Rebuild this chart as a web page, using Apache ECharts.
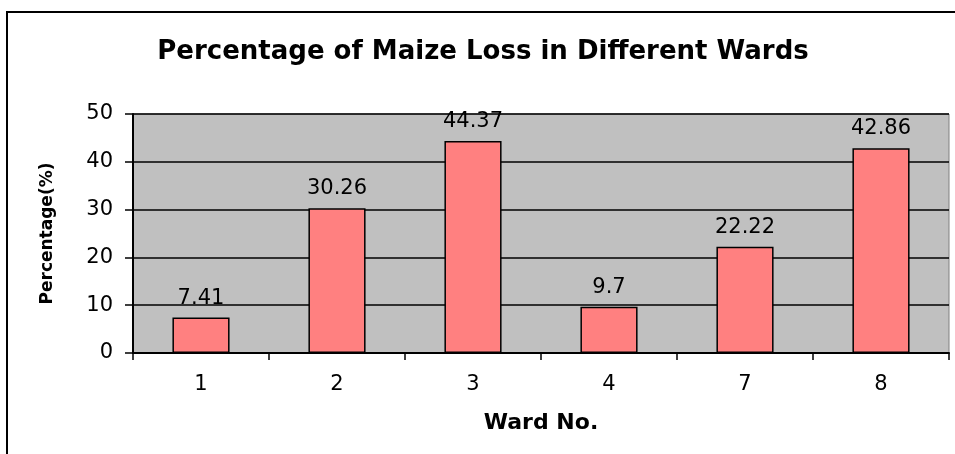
<!DOCTYPE html>
<html>
<head>
<meta charset="UTF-8">
<title>Maize Loss</title>
<script src="https://cdn.jsdelivr.net/npm/echarts@6/dist/echarts.min.js"></script>
<style>
  html, body { margin: 0; padding: 0; background: #fff; }
  #main { width: 955px; height: 454px; }
</style>
</head>
<body>
<div id="main"></div>
<script>
// data
var wards = ['1', '2', '3', '4', '7', '8'];
var lossPct = [7.41, 30.26, 44.37, 9.7, 22.22, 42.86];
var yTicks = [0, 10, 20, 30, 40, 50];

var font = 'DejaVu Sans, Verdana, sans-serif';
var myChart = echarts.init(document.getElementById('main'));

var option = {
  backgroundColor: '#fff',
  animation: false,
  title: {
    text: 'Percentage of Maize Loss in Different Wards',
    left: 478,
    textAlign: 'center',
    top: 34,
    textStyle: { fontFamily: font, fontSize: 26, fontWeight: 'bold', color: '#000' }
  },
  graphic: [{
    type: 'rect',
    shape: { x: 7, y: 12, width: 1000, height: 500 },
    style: { fill: 'none', stroke: '#000', lineWidth: 2 },
    silent: true
  }],
  grid: {
    left: 133, right: 6, top: 114, bottom: 101,
    show: true,
    backgroundColor: '#c0c0c0',
    borderColor: '#808080',
    borderWidth: 1
  },
  xAxis: {
    type: 'category',
    data: wards,
    name: 'Ward No.',
    nameLocation: 'middle',
    nameGap: 59,
    nameTextStyle: { fontFamily: font, fontSize: 22, fontWeight: 'bold', color: '#000' },
    axisLine: { lineStyle: { color: '#000', width: 2 } },
    axisTick: { show: true, length: 7, lineStyle: { color: '#000', width: 1.5 } },
    axisLabel: { fontFamily: font, fontSize: 21, color: '#000', margin: 21 }
  },
  yAxis: {
    type: 'value',
    min: yTicks[0],
    max: yTicks[yTicks.length - 1],
    interval: 10,
    name: 'Percentage(%)',
    nameLocation: 'middle',
    nameGap: 77,
    nameRotate: 90,
    nameTextStyle: { fontFamily: font, fontSize: 17, fontWeight: 'bold', color: '#000' },
    axisLine: { show: true, lineStyle: { color: '#000', width: 2 } },
    axisTick: { show: true, length: 8, lineStyle: { color: '#000', width: 1.5 } },
    axisLabel: { fontFamily: font, fontSize: 21, color: '#000', margin: 20 },
    splitLine: { show: true, lineStyle: { color: '#000', width: 1.5 } }
  },
  series: [{
    type: 'bar',
    data: lossPct,
    barWidth: '42%',
    itemStyle: { color: '#ff8080', borderColor: '#000', borderWidth: 1.5 },
    label: {
      show: true,
      position: 'top',
      distance: 9,
      fontFamily: font,
      fontSize: 21,
      color: '#000'
    }
  }]
};

myChart.setOption(option);
</script>
</body>
</html>
